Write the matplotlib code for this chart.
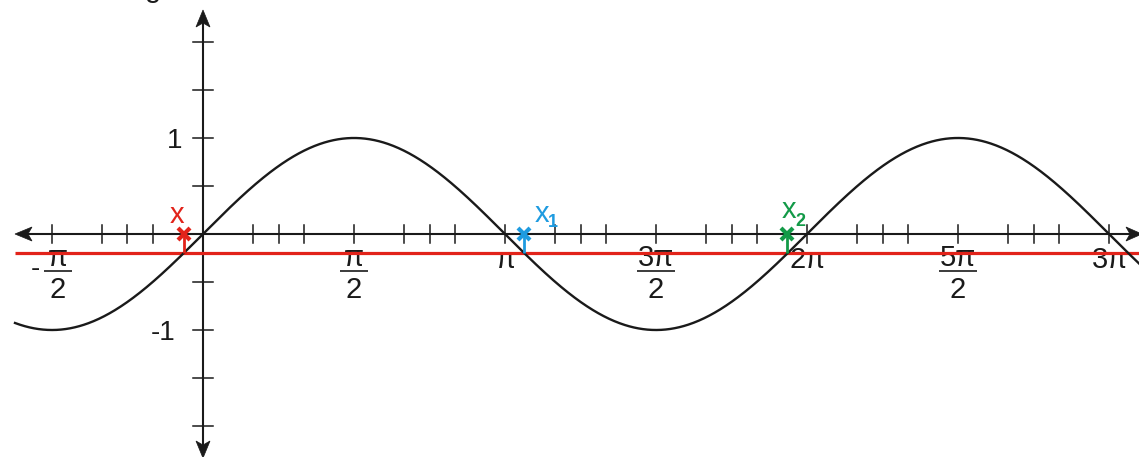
import numpy as np
import matplotlib
matplotlib.use("Agg")
import matplotlib.pyplot as plt
from matplotlib.patches import Polygon

PI = np.pi

# ---------------- data ----------------
tick_fracs = [-1/2, -1/3, -1/4, -1/6, 1/6, 1/4, 1/3, 1/2, 2/3, 3/4, 5/6, 1,
              7/6, 5/4, 4/3, 3/2, 5/3, 7/4, 11/6, 2, 13/6, 9/4, 7/3, 5/2,
              8/3, 11/4, 17/6, 3]                      # multiples of pi
label_fracs = [-1/2, 1/2, 1, 3/2, 2, 5/2, 3]
label_num = ["π", "π", "π", "3π", "2π", "5π", "3π"]
label_den = ["2", "2", "", "2", "", "2", ""]
label_neg = [True, False, False, False, False, False, False]
y_ticks = [-2, -1.5, -1, -0.5, 0.5, 1, 1.5, 2]
y_labels = {1: "1", -1: "-1"}
red_level = -0.2
sol_x = [-0.20, 3.34, 6.08]
sol_names = ["x", "x", "x"]
sol_subs = ["", "1", "2"]
sol_colors = ["#e2231a", "#1e9be0", "#139a48"]

# ---------------- geometry helpers (pixel -> data) ----------------
W, H = 1139, 457
X0, XS = 203.0, 96.13
Y0, YS = 234.0, 96.0
def dx(px): return (px - X0) / XS
def dy(py): return (Y0 - py) / YS
def px_of(x): return X0 + x * XS

fig = plt.figure(figsize=(W / 100, H / 100), dpi=100)
ax = fig.add_axes([0, 0, 1, 1])
ax.set_xlim(dx(0), dx(W))
ax.set_ylim(dy(H), dy(0))
ax.axis("off")

BLACK = "#1a1a1a"
FONT = "Liberation Sans"

# axes
ax.plot([dx(22), dx(1135)], [0, 0], color=BLACK, lw=1.5, zorder=2, solid_capstyle="butt")
ax.plot([0, 0], [dy(16), dy(452)], color=BLACK, lw=1.5, zorder=2, solid_capstyle="butt")
def arrow(pts):
    ax.add_patch(Polygon([(dx(a), dy(b)) for a, b in pts], closed=True,
                         facecolor=BLACK, edgecolor=BLACK, lw=0.5, zorder=2))
arrow([(15, 234), (32, 227), (28, 234), (32, 241)])
arrow([(1142, 234), (1126, 227), (1130, 234), (1126, 241)])
arrow([(203, 10), (196, 27), (203, 23), (210, 27)])
arrow([(203, 458), (196, 441), (203, 445), (210, 441)])

# x ticks
for f in tick_fracs:
    x = f * PI
    ax.plot([x, x], [dy(225), dy(243)], color=BLACK, lw=1.1, zorder=2)
# y ticks
for v in y_ticks:
    ax.plot([dx(193), dx(213)], [v, v], color=BLACK, lw=1.1, zorder=2)
for v, s in y_labels.items():
    rx = 182 if v > 0 else 175
    base = 148 if v > 0 else 340
    ax.text(dx(rx), dy(base), s, ha="right", va="baseline", fontsize=20,
            family=FONT, color=BLACK, zorder=2)

# x tick labels
for f, num, den, neg in zip(label_fracs, label_num, label_den, label_neg):
    cx = px_of(f * PI)
    if den:
        if neg:
            ax.text(dx(35), dy(276), "-", ha="center", va="baseline", fontsize=20,
                    family=FONT, color=BLACK, zorder=1)
            cx += 6
        ax.text(dx(cx), dy(266), num, ha="center", va="baseline", fontsize=21,
                family=FONT, color=BLACK, zorder=1)
        hw = 14 if len(num) == 1 else 19
        ax.plot([dx(cx - hw), dx(cx + hw)], [dy(270.5), dy(270.5)], color=BLACK,
                lw=1.2, zorder=1, solid_capstyle="butt")
        ax.text(dx(cx), dy(298), den, ha="center", va="baseline", fontsize=21,
                family=FONT, color=BLACK, zorder=1)
    else:
        ax.text(dx(cx + 1), dy(268), num, ha="center", va="baseline", fontsize=21,
                family=FONT, color=BLACK, zorder=1)

# red horizontal line
ax.plot([dx(15), dx(W + 5)], [red_level, red_level], color=sol_colors[0], lw=2.3,
        zorder=3, solid_capstyle="butt")

# sine curve
t = np.linspace(dx(15), dx(W + 10), 1500)
ax.plot(t, np.sin(t), color=BLACK, lw=1.7, zorder=4)

# solutions
label_pos = [(177, 223, "center"), (535, 222, "left"), (782, 218, "left")]
sub_pos = [None, (548, 227), (795, 226)]
for x, name, sub, col, lp, sp in zip(sol_x, sol_names, sol_subs, sol_colors,
                                     label_pos, sub_pos):
    ax.plot([x, x], [0, red_level], color=col, lw=2.0, zorder=5, solid_capstyle="butt")
    ax.plot([x], [0], marker="x", ms=8, mew=3.0, color=col, zorder=6)
    ax.text(dx(lp[0]), dy(lp[1]), name, ha=lp[2], va="baseline", fontsize=21,
            family=FONT, color=col, zorder=6)
    if sub:
        ax.text(dx(sp[0]), dy(sp[1]), sub, ha="left", va="baseline", fontsize=13,
                fontweight="bold", family=FONT, color=col, zorder=6)

# cropped fragment at the top edge
ax.text(dx(153), dy(-3), "g", ha="center", va="baseline", fontsize=21,
        family=FONT, color=BLACK, zorder=1)

fig.savefig("out.png", dpi=100)
